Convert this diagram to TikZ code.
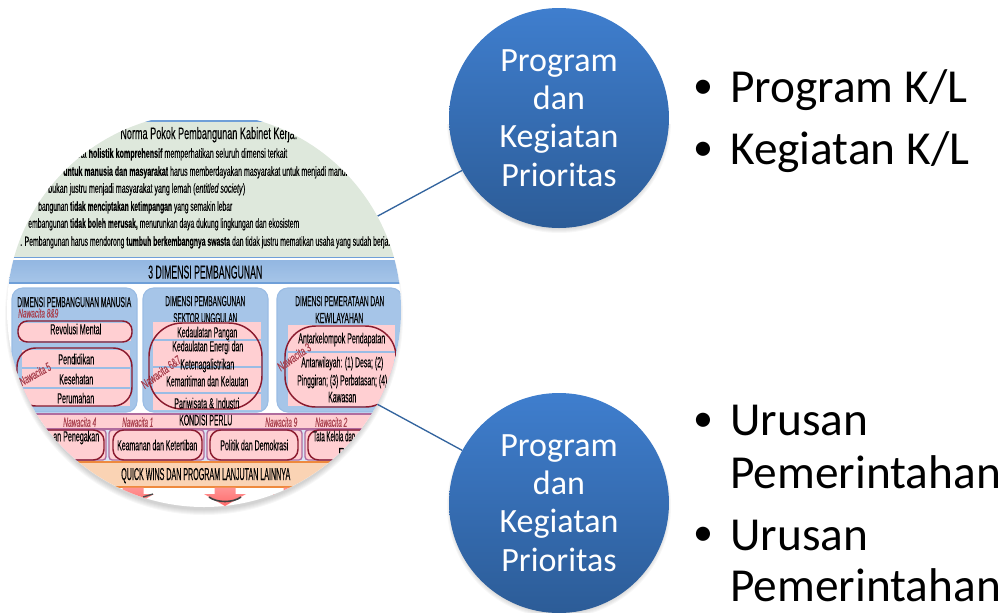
\documentclass[tikz,border=0pt]{standalone}
\usepackage{fontspec}
\setmainfont{Carlito}
\newfontfamily\ar[FakeBold=0.25]{Liberation Sans}
\definecolor{leaf}{HTML}{DEE8DC}
\definecolor{sky}{HTML}{A6C5E8}
\definecolor{skyline}{HTML}{6F9FD8}
\definecolor{pinkf}{HTML}{FFCFD2}
\definecolor{wine}{HTML}{8A1A2E}
\definecolor{plum}{HTML}{B06C9E}
\definecolor{peach}{HTML}{FAD3B4}
\definecolor{orng}{HTML}{EE8A3E}
\definecolor{nawa}{HTML}{A8404E}
\definecolor{link}{HTML}{33649E}
\definecolor{blue1}{HTML}{3F7ECE}
\definecolor{blue2}{HTML}{2C5C97}
\tikzset{
  x=0.75pt,y=-0.75pt,
  bluecircle/.style={circle,minimum size=165pt,inner sep=0pt,top color=blue1,bottom color=blue2,text=white,align=center,font=\fontsize{25.5pt}{28.7pt}\selectfont},
  picdisc/.style={circle,minimum size=295.5pt,inner sep=0pt},
  linkline/.style={draw=link,line width=1pt},
  bullettext/.style={anchor=base west,inner sep=0pt,font=\fontsize{35.5pt}{40pt}\selectfont},
  bulletmark/.style={anchor=base west,inner sep=0pt,font=\fontsize{30pt}{34pt}\selectfont},
  panel/.style={draw=skyline!70,fill=sky,line width=.8pt,rounded corners=8pt},
  pinkrect/.style={fill=pinkf},
  sepline/.style={draw=skyline!70,line width=.8pt},
  ringbox/.style={draw=wine,line width=1.1pt},
  plumbox/.style={draw=plum,fill=pinkf,line width=1pt,rounded corners=2.5pt},
}
\newcommand{\tl}[7][]{\pgfmathsetlengthmacro{\tw}{(#4-#3)*0.75pt}\pgfmathsetlengthmacro{\th}{#6*0.75pt}%
  \node (#2) [anchor=base west,inner sep=0pt,#1] at ({#3},{#5+#6/2}) {\resizebox{\tw}{\th}{\ar #7}};}
\newcommand{\nw}[7][]{\pgfmathsetlengthmacro{\tw}{#5*0.75pt}\pgfmathsetlengthmacro{\th}{#6*0.75pt}%
  \node (#2) [inner sep=0pt,text=nawa,#1] at (#3,#4) {\resizebox{\tw}{\th}{\ar\itshape #7}};}
\begin{document}
\begin{tikzpicture}
\path[use as bounding box] (0,0) rectangle (1004,612);
% soft shadows
\begin{scope}
\clip (0,124) rectangle (1004,612);
\foreach \r in {194,195,196,197,198,199}{\fill[black,opacity=.03] (204,316) circle [radius=\r];}
\foreach \r in {108,109,110,111,112}{
  \fill[black,opacity=.03] (559,121) circle [radius=\r];
  \fill[black,opacity=.03] (559,506) circle [radius=\r];}
\end{scope}
\node (pic) [picdisc] at (204,310) {};
\node (top) [bluecircle] at (559,118) {Program\\dan\\Kegiatan\\Prioritas};
\node (bot) [bluecircle] at (559,503) {Program\\dan\\Kegiatan\\Prioritas};
\draw[linkline] (pic) -- (top);
\draw[linkline] (pic) -- (bot);
\begin{scope}
\clip (204,310) circle [radius=197];
\clip (0,120) rectangle (410,520);
\fill[white] (0,120) rectangle (410,520);
% upper norm block
\fill[leaf] (0,120) rectangle (410,257);
\fill[skyline] (0,120) rectangle (410,121.5);
\fill[skyline] (0,256.5) rectangle (410,258);
\tl{n0}{120}{297}{133}{12}{Norma Pokok Pembangunan Kabinet Kerja:}
\tl{n1}{78}{287}{153}{9.5}{rat \textbf{holistik komprehensif} memperhatikan seluruh dimensi terkait}
\tl{n2}{63}{347}{171}{9.5}{\textbf{untuk manusia dan masyarakat} harus memberdayakan masyarakat untuk menjadi mandi}
\tl{n3}{48}{245}{188}{9.5}{bukan justru menjadi masyarakat yang lemah (\textit{entitled society})}
\tl{n4}{38}{232}{206}{9.5}{bangunan \textbf{tidak menciptakan ketimpangan} yang semakin lebar}
\tl{n5}{28}{299}{223}{9.5}{embangunan \textbf{tidak boleh merusak,} menurunkan daya dukung lingkungan dan ekosistem}
\tl{n6}{20}{390}{241}{9.5}{. Pembangunan harus mendorong \textbf{tumbuh berkembangnya swasta} dan tidak justru mematikan usaha yang sudah berja.}
% three dimensions band
\shade[top color=skyline!75,bottom color=sky] (9,260) rectangle (401,283);
\draw[skyline,line width=1pt] (9,283) -- (401,283);
\tl{d0}{148}{262}{272}{13}{3 DIMENSI PEMBANGUNAN}
% panels
\draw[panel] (12,288) rectangle (137,412);
\draw[panel] (143,288) rectangle (268,412);
\draw[panel] (277,288) rectangle (402,412);
\tl{p1}{17}{131}{302}{10}{DIMENSI PEMBANGUNAN MANUSIA}
\tl{p2}{165}{245}{301}{10}{DIMENSI PEMBANGUNAN}
\tl{p2b}{173}{237}{318}{10}{SEKTOR UNGGULAN}
\tl{p3}{295}{384}{301}{10}{DIMENSI PEMERATAAN DAN}
\tl{p3b}{315}{363}{318}{10}{KEWILAYAHAN}
% panel 1
\tl[text=nawa]{w89}{18}{58}{313}{9}{\itshape Nawacita 8\&9}
\fill[pinkrect] (19,323) rectangle (131,341);
\draw[ringbox,rounded corners=7pt] (18,321) rectangle (132,342);
\tl{r1}{50}{101}{329}{10.5}{Revolusi Mental}
\fill[pinkrect] (22,350) rectangle (130,406);
\draw[sepline] (22,368) -- (130,368);
\draw[sepline] (22,388) -- (130,388);
\draw[ringbox,rounded corners=14pt] (17,348) rectangle (132,406);
\tl{r2}{58}{94}{359}{10.5}{Pendidikan}
\tl{r3}{59}{93}{379}{10.5}{Kesehatan}
\tl{r4}{57}{94}{398}{10.5}{Perumahan}
\nw[rotate=29]{w5}{35}{374}{34}{9}{Nawacita 5}
% panel 2
\fill[pinkrect] (153,322) rectangle (261,410);
\draw[sepline] (153,340) -- (261,340);
\draw[sepline] (153,367) -- (261,367);
\draw[sepline] (153,393) -- (261,393);
\draw[ringbox,rounded corners=25pt] (149,323) rectangle (262,409);
\tl{s1}{177}{237}{332}{10.5}{Kedaulatan Pangan}
\tl{s2}{172}{243}{346}{10.5}{Kedaulatan Energi dan}
\tl{s3}{180}{234}{364}{10.5}{Ketenagalistrikan}
\tl{s4}{166}{248}{381}{10.5}{Kemaritiman dan Kelautan}
\tl{s5}{174}{239}{403}{10.5}{Pariwisata \& Industri}
\nw[rotate=36]{w67}{161}{372}{46}{9}{Nawacita 6\&7}
% panel 3
\fill[pinkrect] (288,325) rectangle (395,406);
\draw[sepline] (288,352) -- (395,352);
\draw[ringbox,rounded corners=23pt] (285,326) rectangle (396,407);
\tl{k1}{298}{385}{338}{10.5}{Antarkelompok Pendapatan}
\tl{k2}{301}{383}{362}{10.5}{Antarwilayah: (1) Desa; (2)}
\tl{k3}{297}{387}{380}{10.5}{Pinggiran; (3) Perbatasan; (4)}
\tl{k4}{328}{356}{397}{10.5}{Kawasan}
\nw[rotate=35]{w3}{294}{357}{38}{9}{Nawacita 3}
% kondisi perlu
\fill[pinkf] (0,414) rectangle (410,430);
\draw[plum,line width=1pt] (0,414) -- (410,414);
\draw[plum,line width=1pt] (0,429) -- (410,429);
\tl[text=nawa]{w4}{63}{96}{422}{9.5}{\itshape Nawacita 4}
\tl[text=nawa]{w1}{122}{153}{422}{9.5}{\itshape Nawacita 1}
\tl{kp}{179}{232}{420}{10.5}{KONDISI PERLU}
\tl[text=nawa]{w9}{265}{297}{422}{9.5}{\itshape Nawacita 9}
\tl[text=nawa]{w2}{315}{347}{422}{9.5}{\itshape Nawacita 2}
% condition boxes
\fill[sky!45!white] (0,430) rectangle (410,462);
\draw[plumbox] (0,430) rectangle (106,460);
\draw[plumbox] (109,430) rectangle (204,460);
\draw[plumbox] (207,430) rectangle (302,460);
\draw[plumbox] (305,430) rectangle (420,460);
\draw[ringbox,rounded corners=8pt] (-10,430) rectangle (104,460);
\draw[ringbox,rounded corners=8pt] (113,430) rectangle (202,460);
\draw[ringbox,rounded corners=8pt] (210,430) rectangle (298,460);
\draw[ringbox,rounded corners=8pt] (308,430) rectangle (420,460);
\tl{c1}{53}{99}{436}{10.5}{an Penegakan}
\tl{c2}{117}{197}{445}{10.5}{Keamanan dan Ketertiban}
\tl{c3}{220}{288}{445}{10.5}{Politik dan Demokrasi}
\tl{c4}{313}{355}{436}{10.5}{Tata Kelola dan}
\tl{c5}{338}{346}{453}{10}{R}
% quick wins
\fill[peach] (0,462) rectangle (410,487);
\draw[orng,line width=1pt] (0,462) -- (410,462);
\draw[orng,line width=1pt] (0,487) -- (410,487);
\tl{q}{121}{290}{474}{12}{QUICK WINS DAN PROGRAM LANJUTAN LAINNYA}
% arrows
\foreach \c in {133,225,294}{
  \shade[top color=red!42!white,bottom color=red!58!white]
    (\c-10.5,487.5) -- (\c+10.5,487.5) -- (\c+10.5,494) -- (\c+21,494) -- (\c,506) -- (\c-21,494) -- (\c-10.5,494) -- cycle;}
\draw[black!75,line width=1.2pt] (209,497) .. controls (217,503) and (233,503) .. (241,497);
\draw[black!70,line width=1pt] (143,497) -- (153,494);
\end{scope}
% bullets
\node (b1) [bulletmark] at (693,98) {•};
\node (t1) [bullettext] at (730,102) {Program K/L};
\node (b2) [bulletmark] at (693,160) {•};
\node (t2) [bullettext] at (730,164) {Kegiatan K/L};
\node (b3) [bulletmark] at (693,431) {•};
\node (t3) [bullettext] at (730,435) {Urusan};
\node (t4) [bullettext] at (730,488) {Pemerintahan};
\node (b4) [bulletmark] at (693,545) {•};
\node (t5) [bullettext] at (730,550) {Urusan};
\node (t6) [bullettext] at (730,601) {Pemerintahan};
\end{tikzpicture}
\end{document}
